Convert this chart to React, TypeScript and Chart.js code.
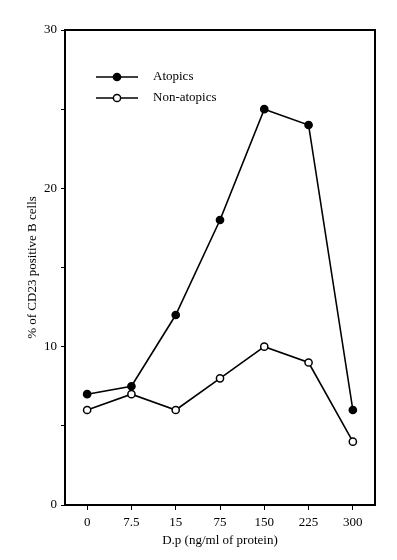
import React, { useEffect, useRef } from "react";
import { Chart, registerables } from "chart.js";

Chart.register(...registerables);

const categories = ["0", "7.5", "15", "75", "150", "225", "300"];
const atopics = [7, 7.5, 12, 18, 25, 24, 6];
const nonAtopics = [6, 7, 6, 8, 10, 9, 4];
const seriesNames = ["Atopics", "Non-atopics"];
const xTitle = "D.p (ng/ml of protein)";
const yTitle = "% of CD23 positive B cells";

const FONT = "'Liberation Serif', 'DejaVu Serif', serif";

const framePlugin = {
  id: "frame",
  afterDraw(chart: any) {
    const { ctx, chartArea } = chart;
    ctx.save();
    ctx.strokeStyle = "#000";
    ctx.lineWidth = 2;
    ctx.beginPath();
    ctx.moveTo(chartArea.left, chartArea.top);
    ctx.lineTo(chartArea.right, chartArea.top);
    ctx.lineTo(chartArea.right, chartArea.bottom);
    ctx.stroke();
    // legend
    const lx0 = 96, lx1 = 138, tx = 153;
    const ys = [77, 98];
    chart.data.datasets.forEach((ds: any, i: number) => {
      const y = ys[i];
      ctx.lineWidth = 1.5;
      ctx.beginPath();
      ctx.moveTo(lx0, y);
      ctx.lineTo(lx1, y);
      ctx.stroke();
      ctx.beginPath();
      ctx.arc((lx0 + lx1) / 2, y, 3.6, 0, Math.PI * 2);
      ctx.fillStyle = ds.pointBackgroundColor;
      ctx.fill();
      ctx.lineWidth = 1.5;
      ctx.stroke();
      ctx.fillStyle = "#000";
      ctx.font = `13px ${FONT}`;
      ctx.textBaseline = "middle";
      ctx.textAlign = "left";
      ctx.fillText(ds.label, tx, y);
    });
    ctx.restore();
  },
};

export default function App() {
  const ref = useRef<HTMLCanvasElement>(null);
  useEffect(() => {
    document.body.style.margin = "0";
    const chart = new Chart(ref.current!, {
      type: "line",
      data: {
        labels: categories,
        datasets: [
          {
            label: seriesNames[0],
            data: atopics,
            borderColor: "#000",
            borderWidth: 1.6,
            pointBackgroundColor: "#000",
            pointBorderColor: "#000",
            pointBorderWidth: 1.5,
            pointRadius: 3.6,
            tension: 0,
          },
          {
            label: seriesNames[1],
            data: nonAtopics,
            borderColor: "#000",
            borderWidth: 1.6,
            pointBackgroundColor: "#fff",
            pointBorderColor: "#000",
            pointBorderWidth: 1.5,
            pointRadius: 3.6,
            tension: 0,
          },
        ],
      },
      options: {
        responsive: false,
        animation: false,
        layout: { padding: { left: 20, right: 22, top: 30, bottom: 12 } },
        plugins: { legend: { display: false }, tooltip: { enabled: false } },
        scales: {
          x: {
            type: "category",
            offset: true,
            grid: { drawOnChartArea: false, offset: false, tickLength: 5, color: "#000", lineWidth: 1 },
            border: { color: "#000", width: 2 },
            ticks: { color: "#000", font: { family: FONT, size: 13 }, padding: 5, maxRotation: 0 },
            title: { display: true, text: xTitle, color: "#000", font: { family: FONT, size: 13 }, padding: { top: 0, bottom: 0 } },
            afterFit(scale: any) {
              scale.height = 560 - 505 - 12;
            },
          },
          y: {
            min: 0,
            max: 30,
            grid: { drawOnChartArea: false, tickLength: 4, color: "#000", lineWidth: 1 },
            border: { color: "#000", width: 2 },
            ticks: {
              stepSize: 5,
              color: "#000",
              font: { family: FONT, size: 13 },
              padding: 4,
              callback: (v: any) => (Number(v) % 10 === 0 ? String(v) : ""),
            },
            title: { display: true, text: yTitle, color: "#000", font: { family: FONT, size: 13 }, padding: { top: 5, bottom: 0 } },
            afterFit(scale: any) {
              scale.width = 65 - 20;
            },
          },
        },
      },
      plugins: [framePlugin],
    } as any);
    return () => chart.destroy();
  }, []);
  return (
    <div style={{ width: 397, height: 560, background: "#fff" }}>
      <canvas ref={ref} width={397} height={560} />
    </div>
  );
}
